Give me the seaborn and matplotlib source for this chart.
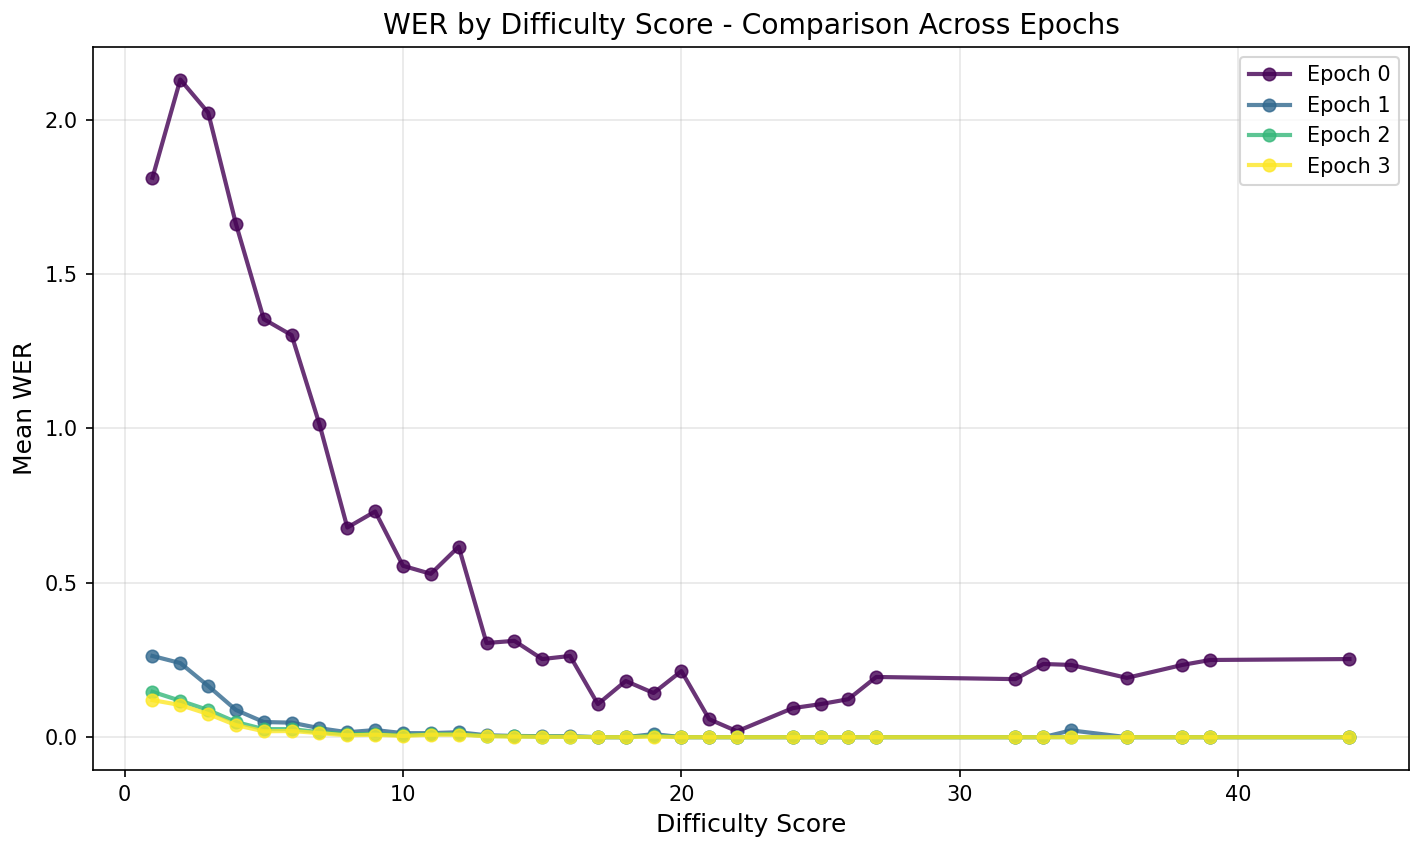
import matplotlib
matplotlib.use("Agg")
import matplotlib.pyplot as plt
import seaborn as sns
import numpy as np
import pandas as pd

# difficulty scores present in the data
scores = [1, 2, 3, 4, 5, 6, 7, 8, 9, 10, 11, 12, 13, 14, 15, 16, 17, 18, 19, 20,
          21, 22, 24, 25, 26, 27, 32, 33, 34, 36, 38, 39, 44]

wer_epoch0 = [1.812, 2.130, 2.023, 1.662, 1.354, 1.302, 1.013, 0.679, 0.731, 0.555,
              0.529, 0.617, 0.305, 0.312, 0.253, 0.263, 0.107, 0.182, 0.143, 0.214,
              0.058, 0.019, 0.094, 0.107, 0.123, 0.195, 0.188, 0.237, 0.234, 0.192,
              0.234, 0.250, 0.253]
wer_epoch1 = [0.263, 0.240, 0.166, 0.088, 0.049, 0.047, 0.029, 0.016, 0.023, 0.013,
              0.013, 0.016, 0.006, 0.004, 0.003, 0.003, 0.0, 0.0, 0.010, 0.0,
              0.0, 0.0, 0.0, 0.0, 0.0, 0.0, 0.0, 0.0, 0.022, 0.0,
              0.0, 0.0, 0.0]
wer_epoch2 = [0.147, 0.118, 0.088, 0.049, 0.026, 0.026, 0.016, 0.010, 0.010, 0.006,
              0.010, 0.010, 0.004, 0.003, 0.002, 0.002, 0.0, 0.0, 0.005, 0.0,
              0.0, 0.0, 0.0, 0.0, 0.0, 0.0, 0.0, 0.0, 0.0, 0.0,
              0.0, 0.0, 0.0]
wer_epoch3 = [0.120, 0.104, 0.075, 0.039, 0.019, 0.020, 0.013, 0.006, 0.008, 0.004,
              0.008, 0.008, 0.003, 0.002, 0.001, 0.001, 0.0, 0.0, 0.002, 0.0,
              0.0, 0.0, 0.0, 0.0, 0.0, 0.0, 0.0, 0.0, 0.0, 0.0,
              0.0, 0.0, 0.0]

epochs = ["Epoch 0", "Epoch 1", "Epoch 2", "Epoch 3"]
all_wer = [wer_epoch0, wer_epoch1, wer_epoch2, wer_epoch3]

frames = []
for name, vals in zip(epochs, all_wer):
    frames.append(pd.DataFrame({"score": scores, "wer": vals, "epoch": name}))
df = pd.concat(frames)

colors = plt.cm.viridis(np.linspace(0, 1, len(epochs)))

fig, ax = plt.subplots(figsize=(9.5, 5.66), dpi=150)

for name, c in zip(epochs, colors):
    sub = df[df["epoch"] == name]
    sns.lineplot(data=sub, x="score", y="wer", ax=ax, color=c, marker="o",
                 markersize=6, linewidth=2, alpha=0.8, label=name,
                 markeredgecolor=c)

ax.set_title("WER by Difficulty Score - Comparison Across Epochs", fontsize=13.5)
ax.set_xlabel("Difficulty Score", fontsize=12)
ax.set_ylabel("Mean WER", fontsize=12)
ax.grid(True, alpha=0.3)
ax.legend(loc="upper right", fontsize=10)

fig.subplots_adjust(left=0.065, right=0.989, top=0.945, bottom=0.093)
fig.savefig("out.png", dpi=150)
